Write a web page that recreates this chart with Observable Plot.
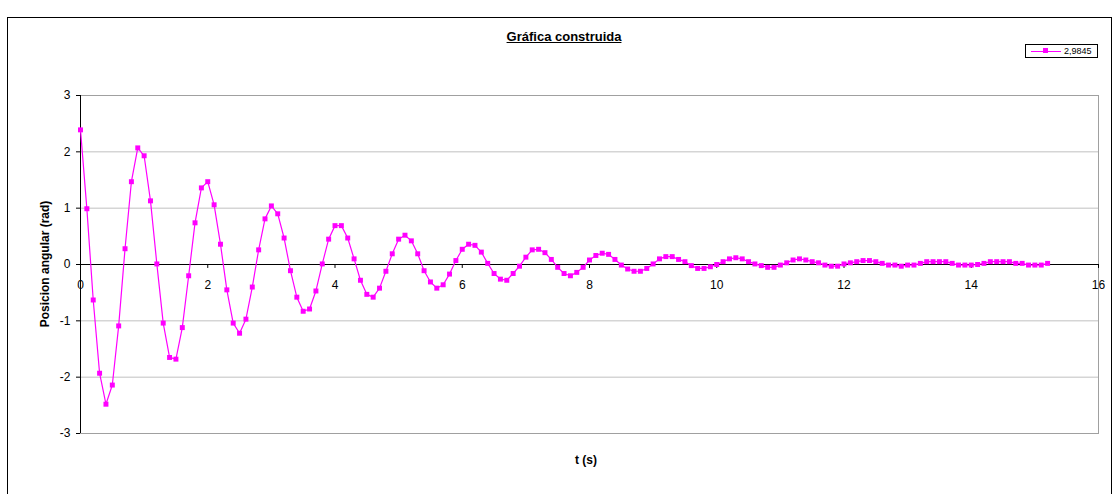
<!DOCTYPE html>
<html>
<head>
<meta charset="utf-8">
<script src="https://cdn.jsdelivr.net/npm/d3@7"></script>
<script src="https://cdn.jsdelivr.net/npm/@observablehq/plot@0.6"></script>
<style>
  html, body { margin: 0; padding: 0; background: #fff; }
  body { width: 1116px; height: 494px; overflow: hidden; position: relative; font-family: "Liberation Sans", Arial, sans-serif; }
  #frame { position: absolute; left: 7px; top: 17px; width: 1105px; height: 500px; border: 1.5px solid #000; box-sizing: border-box; }
  #chart { position: absolute; left: 0; top: 0; }
  #title { position: absolute; left: 0; width: 1128px; top: 29px; text-align: center; font-weight: bold; font-size: 13px; text-decoration: underline; }
  #ylabel { position: absolute; left: 45px; top: 264px; transform: translate(-50%, -50%) rotate(-90deg); white-space: nowrap; font-weight: bold; font-size: 12px; }
  #xlabel { position: absolute; left: 586px; top: 460px; transform: translate(-50%, -50%); font-weight: bold; font-size: 12px; }
  #legend { position: absolute; left: 1025px; top: 44px; width: 73px; height: 14px; border: 1px solid #000; box-sizing: border-box; font-size: 9px; display: flex; align-items: center; }
  #legend .sym { position: relative; width: 30px; height: 10px; margin-left: 5px; margin-right: 3px; }
  #legend .sym .ln { position: absolute; left: 0; right: 0; top: 4.5px; border-top: 1px solid #ff00ff; }
  #legend .sym .sq { position: absolute; left: 12px; top: 2px; width: 5px; height: 5px; background: #ff00ff; }
</style>
</head>
<body>
<div id="frame"></div>
<div id="chart"></div>
<div id="title">Gráfica construida</div>
<div id="ylabel">Posicion angular (rad)</div>
<div id="xlabel">t (s)</div>
<div id="legend"><span class="sym"><span class="ln"></span><span class="sq"></span></span><span id="legtext"></span></div>
<script>
const seriesName = "2,9845";
const xTicks = [0, 2, 4, 6, 8, 10, 12, 14, 16];
const yTicks = [-3, -2, -1, 0, 1, 2, 3];
const tValues = [
  0.0, 0.1, 0.2, 0.3, 0.4, 0.5, 0.6, 0.7, 0.8, 0.9,
  1.0, 1.1, 1.2, 1.3, 1.4, 1.5, 1.6, 1.7, 1.8, 1.9,
  2.0, 2.1, 2.2, 2.3, 2.4, 2.5, 2.6, 2.7, 2.8, 2.9,
  3.0, 3.1, 3.2, 3.3, 3.4, 3.5, 3.6, 3.7, 3.8, 3.9,
  4.0, 4.1, 4.2, 4.3, 4.4, 4.5, 4.6, 4.7, 4.8, 4.9,
  5.0, 5.1, 5.2, 5.3, 5.4, 5.5, 5.6, 5.7, 5.8, 5.9,
  6.0, 6.1, 6.2, 6.3, 6.4, 6.5, 6.6, 6.7, 6.8, 6.9,
  7.0, 7.1, 7.2, 7.3, 7.4, 7.5, 7.6, 7.7, 7.8, 7.9,
  8.0, 8.1, 8.2, 8.3, 8.4, 8.5, 8.6, 8.7, 8.8, 8.9,
  9.0, 9.1, 9.2, 9.3, 9.4, 9.5, 9.6, 9.7, 9.8, 9.9,
  10.0, 10.1, 10.2, 10.3, 10.4, 10.5, 10.6, 10.7, 10.8, 10.9,
  11.0, 11.1, 11.2, 11.3, 11.4, 11.5, 11.6, 11.7, 11.8, 11.9,
  12.0, 12.1, 12.2, 12.3, 12.4, 12.5, 12.6, 12.7, 12.8, 12.9,
  13.0, 13.1, 13.2, 13.3, 13.4, 13.5, 13.6, 13.7, 13.8, 13.9,
  14.0, 14.1, 14.2, 14.3, 14.4, 14.5, 14.6, 14.7, 14.8, 14.9,
  15.0, 15.1, 15.2
];
const posValues = [
  2.39, 0.99, -0.63, -1.93, -2.48, -2.14, -1.09, 0.28, 1.47, 2.07,
  1.93, 1.13, 0.01, -1.04, -1.65, -1.68, -1.12, -0.20, 0.74, 1.36,
  1.47, 1.06, 0.36, -0.45, -1.04, -1.22, -0.97, -0.40, 0.26, 0.81,
  1.04, 0.90, 0.47, -0.11, -0.58, -0.83, -0.79, -0.47, 0.01, 0.45,
  0.69, 0.69, 0.47, 0.10, -0.28, -0.53, -0.58, -0.42, -0.12, 0.19,
  0.45, 0.52, 0.42, 0.19, -0.11, -0.31, -0.42, -0.36, -0.17, 0.07,
  0.27, 0.36, 0.34, 0.22, 0.02, -0.16, -0.26, -0.28, -0.16, -0.03,
  0.13, 0.26, 0.27, 0.21, 0.09, -0.05, -0.16, -0.20, -0.14, -0.05,
  0.08, 0.16, 0.20, 0.18, 0.09, -0.01, -0.08, -0.12, -0.12, -0.07,
  0.01, 0.10, 0.14, 0.14, 0.09, 0.05, -0.02, -0.07, -0.07, -0.04,
  0.00, 0.05, 0.10, 0.12, 0.10, 0.05, 0.01, -0.02, -0.05, -0.05,
  -0.01, 0.03, 0.08, 0.10, 0.08, 0.05, 0.03, -0.01, -0.03, -0.03,
  0.01, 0.03, 0.05, 0.07, 0.07, 0.05, 0.02, -0.01, -0.01, -0.03,
  -0.01, -0.01, 0.02, 0.05, 0.05, 0.05, 0.05, 0.02, -0.01, -0.01,
  -0.01, 0.00, 0.02, 0.05, 0.05, 0.05, 0.05, 0.02, 0.02, -0.01,
  -0.01, -0.01, 0.02
];

const data = tValues.map((t, i) => ({t, v: posValues[i]}));
const magenta = "#ff00ff";

document.getElementById("legtext").textContent = seriesName;

const chart = Plot.plot({
  width: 1116,
  height: 494,
  marginLeft: 80,
  marginRight: 18,
  marginTop: 95,
  marginBottom: 61,
  style: {fontFamily: "'Liberation Sans', Arial, sans-serif", fontSize: "12px", background: "transparent", color: "#000", overflow: "visible"},
  x: {domain: [0, 16], axis: null},
  y: {domain: [-3, 3]},
  marks: [
    Plot.gridY(yTicks, {stroke: "#c0c0c0", strokeOpacity: 1}),
    Plot.frame({stroke: "#a0a0a0"}),
    Plot.axisY(yTicks, {tickSize: 4, tickPadding: 6, label: null, fontSize: 12, tickFormat: d => String(d).replace("−", "-")}),
    Plot.ruleX([0], {stroke: "#000"}),
    Plot.ruleY([0], {stroke: "#000"}),
    Plot.ruleX(xTicks, {x: d => d, y1: 0, y2: -0.07, stroke: "#000"}),
    Plot.text(xTicks, {x: d => d, y: 0, dy: 21, text: d => String(d), fontSize: 12, fill: "#000"}),
    Plot.line(data, {x: "t", y: "v", stroke: magenta, strokeWidth: 1.2}),
    Plot.dot(data, {x: "t", y: "v", symbol: "square", fill: magenta, stroke: "none", r: 2.8})
  ]
});
document.getElementById("chart").appendChild(chart);
</script>
</body>
</html>
